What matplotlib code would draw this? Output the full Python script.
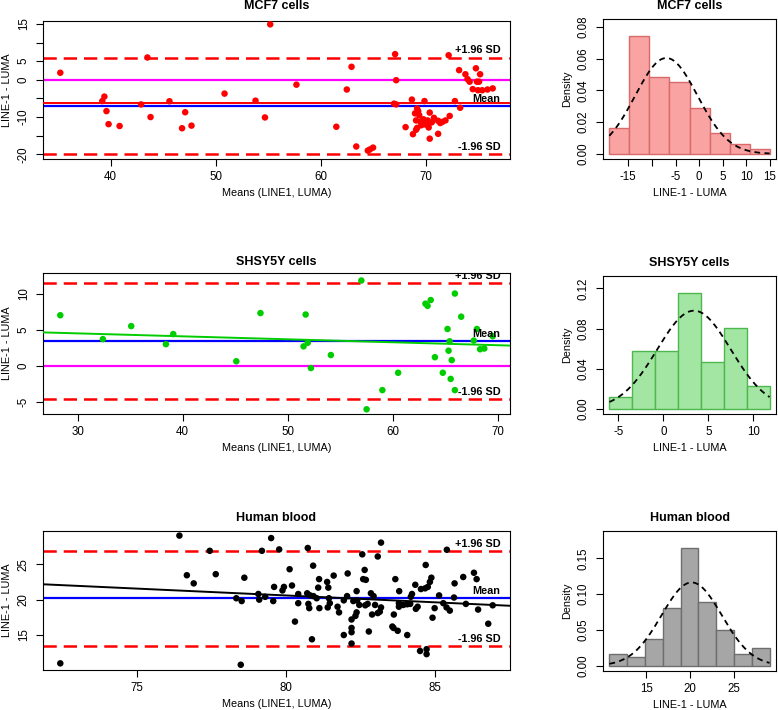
import numpy as np
import matplotlib.pyplot as plt
from matplotlib.transforms import offset_copy

plt.rcParams['font.family'] = ['Liberation Sans', 'DejaVu Sans']

# MCF7 cells: means (LINE1, LUMA) and differences (LINE-1 - LUMA)
mcf7_means = [35.2, 43.5, 55.2, 39.4, 39.2, 39.6, 39.8, 40.85, 42.9, 43.8, 45.6, 46.8, 47.1, 47.7,
              50.85, 53.8, 54.7, 57.7, 61.5, 62.5, 62.95, 63.4, 64.5, 64.7, 65.0, 67.1, 67.2, 67.0,
              67.2, 68.1, 68.7, 68.8, 69.1, 69.2, 69.2, 69.3, 69.4, 69.1, 69.8, 69.9, 70.2, 70.3,
              70.4, 70.4, 70.3, 70.8, 71.2, 71.4, 71.2, 71.9, 72.3, 72.2, 72.8, 73.3, 73.2, 73.8,
              74.0, 74.2, 74.5, 74.8, 74.9, 75.1, 75.2, 75.0, 75.4, 75.9, 76.4, 69.5, 70.6, 71.6, 69.6,
              70.0, 69.0]
mcf7_diffs = [1.9, 6.0, 14.9, -4.5, -5.7, -8.4, -11.9, -12.4, -6.6, -10.0, -5.75, -13.0, -8.7, -12.3,
              -3.7, -5.6, -10.1, -1.3, -12.6, -2.6, 3.5, -17.9, -19.0, -18.7, -18.2, 6.9, -0.1, -6.4,
              -6.6, -12.7, -5.3, -14.6, -13.4, -12.9, -7.7, -8.4, -9.5, -10.9, -10.6, -5.7, -10.9, -12.8,
              -15.8, -8.8, -11.8, -10.2, -11.0, -11.6, -14.5, -10.9, -9.7, 6.6, -5.7, -7.5, 2.6, 1.5,
              0.2, -0.5, -2.5, 3.1, -0.5, -0.5, 1.5, -2.8, -2.8, -2.6, -2.3, -11.2, -11.4, -11.3, -12.2,
              -12.0, -9.0]
mcf7_mean_diff = -6.95
mcf7_sd_diff = 6.6
mcf7_fit = (-6.3, 0.0)  # intercept, slope

# SHSY5Y cells
shsy_means = [28.35, 32.4, 35.1, 38.4, 39.1, 45.1, 47.4, 51.5, 51.7, 51.9, 52.2, 54.1, 57.0, 57.5,
              59.0, 60.5, 63.1, 63.3, 63.6, 64.0, 64.75, 65.2, 65.4, 65.3, 65.5, 65.6, 65.9, 65.9,
              66.5, 67.7, 68.0, 68.3, 68.7, 69.5]
shsy_diffs = [7.0, 3.7, 5.5, 3.0, 4.4, 0.64, 7.3, 2.7, 7.1, 3.2, -0.3, 1.5, 11.8, -6.0,
              -3.35, -0.95, 8.6, 8.3, 9.1, 1.2, -0.95, 5.1, 3.4, 2.1, -1.8, 0.8, 10.0, -3.35,
              6.8, 3.5, 5.1, 2.3, 2.4, 4.1]
shsy_mean_diff = 3.4
shsy_sd_diff = 4.08
shsy_fit = (5.725, -0.041)

# Human blood
blood_means = [76.42, 76.67, 76.90, 72.42, 79.50, 77.44, 79.19, 79.77, 80.73, 77.64, 78.60, 80.12,
               80.91, 79.60, 79.93, 79.88, 80.20, 81.11, 81.08, 81.38, 81.42, 81.60, 82.07, 78.33,
               78.51, 79.07, 79.10, 79.30, 79.57, 80.41, 80.41, 80.71, 80.81, 80.92, 81.03, 80.75,
               80.78, 81.12, 81.44, 81.47, 81.40, 81.73, 81.78, 81.94, 82.05, 80.30, 80.87, 81.94,
               82.20, 82.20, 82.20, 82.20, 78.48, 83.19, 82.56, 83.08, 85.40, 82.64, 82.68, 82.59,
               84.69, 83.67, 84.88, 84.83, 84.76, 84.67, 84.53, 84.34, 85.95, 86.31, 86.40, 85.66,
               82.37, 82.85, 82.94, 83.80, 84.23, 84.19, 85.14, 85.64, 86.04, 86.45, 86.94, 82.26,
               82.39, 82.46, 82.37, 82.33, 82.66, 82.74, 82.89, 82.99, 83.19, 83.08, 83.15, 82.78,
               83.62, 83.57, 83.61, 83.75, 83.79, 83.79, 83.94, 84.07, 84.17, 84.07, 84.36, 84.42,
               84.50, 84.72, 84.72, 84.92, 84.99, 85.28, 85.39, 85.50, 86.79]
blood_diffs = [29.05, 23.45, 22.3, 11.0, 28.7, 26.9, 26.9, 27.1, 27.3, 23.6, 23.1, 24.3,
               24.8, 21.8, 21.8, 21.3, 22.0, 22.9, 21.7, 22.5, 21.7, 23.4, 23.7, 20.2,
               19.8, 20.8, 20.0, 20.4, 19.8, 20.8, 19.5, 20.9, 20.6, 20.5, 20.2, 19.4,
               18.8, 18.8, 20.2, 19.5, 18.9, 19.0, 18.2, 19.9, 20.5, 16.9, 14.4, 15.0,
               17.2, 16.0, 15.4, 13.8, 10.8, 28.06, 26.4, 26.1, 27.05, 24.2, 22.8, 22.9,
               24.9, 22.9, 23.1, 22.5, 21.8, 21.6, 21.5, 22.1, 23.2, 23.8, 22.9, 22.3,
               21.2, 20.9, 20.5, 21.2, 20.8, 20.4, 20.6, 20.3, 19.4, 18.6, 19.2, 19.8,
               19.9, 19.25, 18.2, 17.7, 19.2, 19.4, 17.9, 19.25, 18.9, 18.1, 18.3, 15.5,
               17.9, 16.2, 16.0, 15.6, 19.5, 19.0, 19.25, 19.35, 19.4, 15.0, 18.7, 19.0,
               12.75, 13.0, 12.3, 17.45, 18.8, 19.5, 18.9, 18.45, 16.6]
blood_mean_diff = 20.17
blood_sd_diff = 3.43
blood_fit = (36.08, -0.1936)

W, H = 778, 710


def px_rect(x0, y0, x1, y1):
    """pixel box (top-left origin) -> figure fraction rect"""
    return [x0 / W, 1 - y1 / H, (x1 - x0) / W, (y1 - y0) / H]


def style_axes(ax):
    for s in ax.spines.values():
        s.set_linewidth(0.8)
    ax.tick_params(direction='out', length=5, width=0.8, labelsize=8.3)
    ax.tick_params(axis='x', pad=3.5)
    ax.tick_params(axis='y', pad=4.5)
    for lab in ax.get_yticklabels():
        lab.set_rotation(90)
        lab.set_va('center')


def bland_altman(ax, means, diffs, mean_d, sd_d, fit, color, title, ylim, title_pad,
                 xticks, yticks, ylabels, zero_line=True):
    means = np.array(means)
    upper = mean_d + 1.96 * sd_d
    lower = mean_d - 1.96 * sd_d
    pad = 0.04 * (means.max() - means.min())
    xlim = (means.min() - pad, means.max() + pad)

    dash = (0, (5.3, 2.8))
    ax.axhline(upper, color='red', lw=1.8, ls=dash, zorder=2)
    ax.axhline(lower, color='red', lw=1.8, ls=dash, zorder=2)
    if zero_line:
        ax.axhline(0, color='magenta', lw=1.6, zorder=2)
    ax.axhline(mean_d, color='blue', lw=1.6, zorder=2)
    xs = np.array(xlim)
    ax.plot(xs, fit[0] + fit[1] * xs, color=color, lw=1.4, zorder=3)
    ax.scatter(means, diffs, s=22, color=color, edgecolors='none', zorder=4)

    # labels sit just above their lines, clipped to the plot box like in R
    tr = offset_copy(ax.get_yaxis_transform(), fig=ax.figure, x=-7, y=3, units='points')
    for yv, txt in [(upper, '+1.96 SD'), (mean_d, 'Mean'), (lower, '-1.96 SD')]:
        ax.text(1, yv, txt, transform=tr, ha='right', va='baseline', fontsize=7.8,
                fontweight='bold', clip_on=True, zorder=5)

    ax.set_xlim(xlim)
    ax.set_ylim(ylim)
    ax.set_xticks(xticks)
    ax.set_yticks(yticks)
    ax.set_yticklabels(ylabels)
    ax.set_title(title, fontsize=9, fontweight='bold', pad=title_pad)
    ax.set_xlabel('Means (LINE1, LUMA)', fontsize=7.8, labelpad=4)
    ax.set_ylabel('LINE-1 - LUMA', fontsize=7.8, labelpad=4)
    style_axes(ax)


def diff_hist(ax, diffs, mean_d, sd_d, nbins, fill, edge, title, yticks, xticks, xlabels, title_pad):
    diffs = np.array(diffs)
    dens, edges = np.histogram(diffs, bins=nbins, density=True)
    ax.hist(diffs, bins=edges, density=True, color=fill, edgecolor=edge, linewidth=1.0, zorder=2)
    xs = np.linspace(diffs.min(), diffs.max(), 200)
    ys = np.exp(-0.5 * ((xs - mean_d) / sd_d) ** 2) / (sd_d * np.sqrt(2 * np.pi))
    ax.plot(xs, ys, color='black', lw=1.3, ls=(0, (3.2, 2.4)), zorder=3)

    xpad = 0.04 * (edges[-1] - edges[0])
    ytop = 1.1 * dens.max()
    ax.set_xlim(edges[0] - xpad, edges[-1] + xpad)
    ax.set_ylim(-0.04 * ytop, ytop * 1.04)
    ax.set_yticks(yticks)
    ax.set_yticklabels([f'{v:.2f}' for v in yticks])
    ax.set_xticks(xticks)
    ax.set_xticklabels(xlabels)
    ax.set_title(title, fontsize=9, fontweight='bold', pad=title_pad)
    ax.set_xlabel('LINE-1 - LUMA', fontsize=7.8, labelpad=4)
    ax.set_ylabel('Density', fontsize=7.8, labelpad=4)
    style_axes(ax)


fig = plt.figure(figsize=(W / 100, H / 100), dpi=100)

# row 1: MCF7
ax1 = fig.add_axes(px_rect(43, 21, 510, 159))
bland_altman(ax1, mcf7_means, mcf7_diffs, mcf7_mean_diff, mcf7_sd_diff, mcf7_fit, 'red', 'MCF7 cells',
             (-21.26, 15.8), 8.4, [40, 50, 60, 70],
             [-20, -15, -10, -5, 0, 5, 10, 15], ['-20', '', '-10', '', '0', '5', '', '15'])
ax2 = fig.add_axes(px_rect(603, 19, 776, 159))
diff_hist(ax2, mcf7_diffs, mcf7_mean_diff, mcf7_sd_diff, 8, '#F9A3A3', '#D86A6A', 'MCF7 cells',
          [0, 0.02, 0.04, 0.06, 0.08], [-15, -10, -5, 0, 5, 10, 15], ['-15', '', '-5', '0', '5', '10', '15'], 7)

# row 2: SHSY5Y
ax3 = fig.add_axes(px_rect(43, 273, 510, 414))
bland_altman(ax3, shsy_means, shsy_diffs, shsy_mean_diff, shsy_sd_diff, shsy_fit, '#00CD00', 'SHSY5Y cells',
             (-6.65, 12.84), 5.5, [30, 40, 50, 60, 70], [-5, 0, 5, 10], ['-5', '0', '5', '10'])
ax4 = fig.add_axes(px_rect(603, 276, 776, 414))
diff_hist(ax4, shsy_diffs, shsy_mean_diff, shsy_sd_diff, 7, '#A3E6A3', '#4DB84D', 'SHSY5Y cells',
          [0, 0.04, 0.08, 0.12], [-5, 0, 5, 10], ['-5', '0', '5', '10'], 7)

# row 3: human blood
ax5 = fig.add_axes(px_rect(43, 531, 510, 670))
bland_altman(ax5, blood_means, blood_diffs, blood_mean_diff, blood_sd_diff, blood_fit, 'black', 'Human blood',
             (10.06, 29.7), 7.4, [75, 80, 85], [15, 20, 25], ['15', '20', '25'], zero_line=False)
ax6 = fig.add_axes(px_rect(603, 531, 776, 671))
diff_hist(ax6, blood_diffs, blood_mean_diff, blood_sd_diff, 9, '#A6A6A6', '#6E6E6E', 'Human blood',
          [0, 0.05, 0.10, 0.15], [15, 20, 25], ['15', '20', '25'], 7)

fig.savefig('out.png', dpi=100)
